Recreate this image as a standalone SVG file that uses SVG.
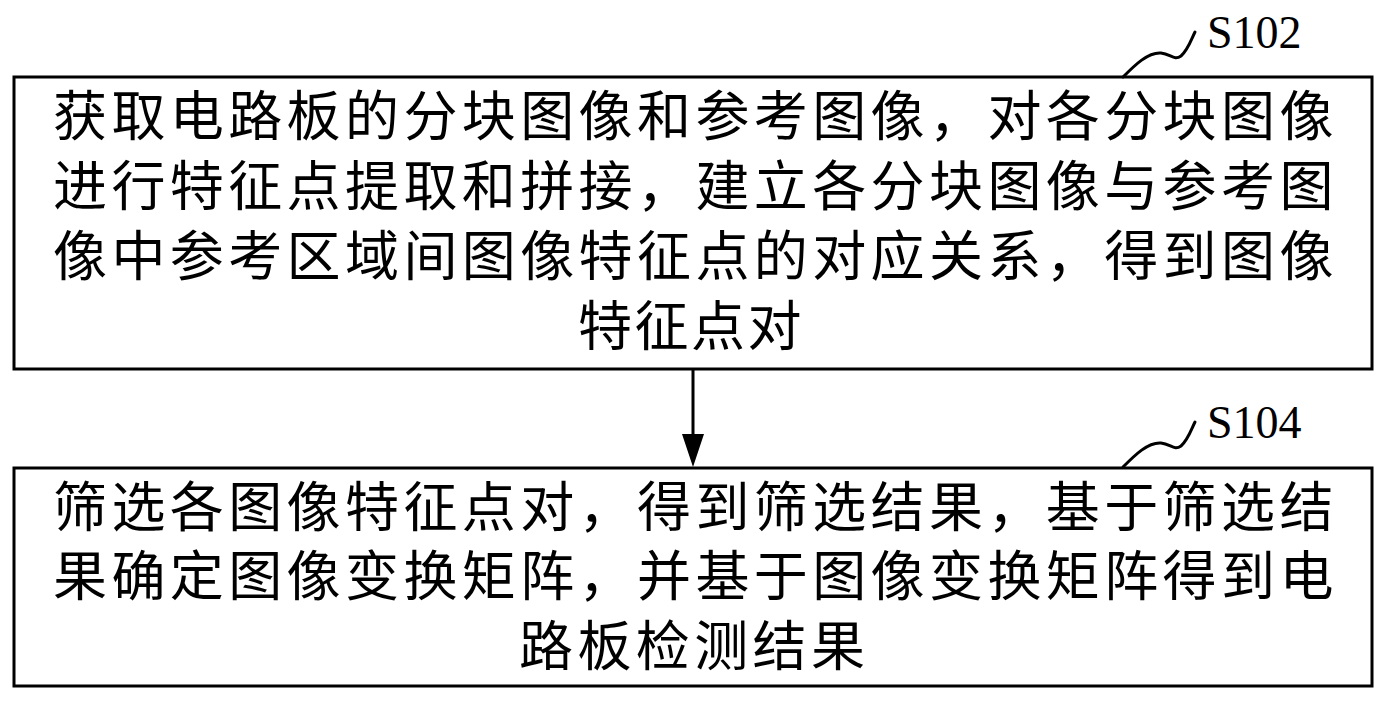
<svg xmlns="http://www.w3.org/2000/svg" width="1390" height="703" viewBox="0 0 1390 703">
<style>
.box{fill:#fff;stroke:#000;stroke-width:3}
.t{font-family:"Noto Sans CJK SC","Noto Sans CJK JP",sans-serif;font-size:54px;letter-spacing:4.4px;fill:#000}
.lbl{font-family:"Liberation Serif",serif;font-size:46px;fill:#000}
.sq{fill:none;stroke:#000;stroke-width:3;stroke-linecap:round}
.ln{stroke:#000;stroke-width:3;fill:none}
</style>
<rect width="1390" height="703" fill="#fff"/>
<g id="connectors">
<line class="ln" x1="693" y1="370" x2="693" y2="434"/>
<path d="M682,434 L704,434 L693,467 Z" fill="#000"/>
</g>
<g id="S102">
<rect class="box" x="14" y="77" width="1358" height="292"/>
<text class="t" x="53" y="136">获取电路板的分块图像和参考图像，对各分块图像</text>
<text class="t" x="53" y="206">进行特征点提取和拼接，建立各分块图像与参考图</text>
<text class="t" x="53" y="276">像中参考区域间图像特征点的对应关系，得到图像</text>
<text class="t" x="578" y="346" style="letter-spacing:2.5px">特征点对</text>
<path class="sq" d="M1123,77 C1135,65 1148,52 1161,53 C1171,54 1174,61 1181,56 C1188,50 1191,40 1195,32"/>
<text class="lbl" x="1207" y="48">S102</text>
</g>
<g id="S104">
<rect class="box" x="14" y="468" width="1358" height="218"/>
<text class="t" x="53" y="527">筛选各图像特征点对，得到筛选结果，基于筛选结</text>
<text class="t" x="53" y="596">果确定图像变换矩阵，并基于图像变换矩阵得到电</text>
<text class="t" x="519" y="666">路板检测结果</text>
<path class="sq" d="M1123,467 C1135,455 1148,442 1161,443 C1171,444 1174,451 1181,446 C1188,440 1191,430 1195,422"/>
<text class="lbl" x="1207" y="438">S104</text>
</g>
</svg>
